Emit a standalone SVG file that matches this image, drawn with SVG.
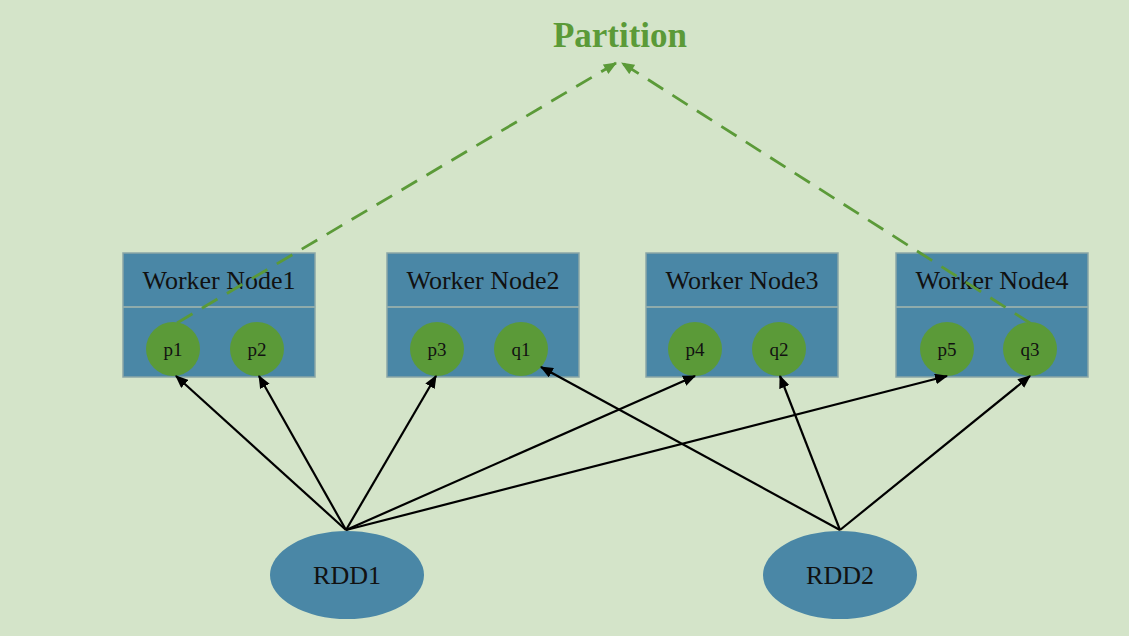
<svg xmlns="http://www.w3.org/2000/svg" width="1129" height="636" viewBox="0 0 1129 636">
<defs>
<style>
.box{fill:#4a87a6;stroke:#8aa6a6;stroke-width:1.5}
.div{stroke:#8fabab;stroke-width:2}
.part{fill:#5b9a38}
.ell{fill:#4a87a6}
.t{font-family:"Liberation Serif",serif;fill:#111;text-anchor:middle}
.arrow{stroke:#000;stroke-width:2.2;fill:none;marker-end:url(#ah)}
.dash{stroke:#5b9a38;stroke-width:2.8;fill:none;stroke-dasharray:18 11;marker-end:url(#gh)}
</style>
<marker id="ah" viewBox="0 0 12 10" refX="11" refY="5" markerWidth="13" markerHeight="11" markerUnits="userSpaceOnUse" orient="auto"><path d="M0,0 L12,5 L0,10 z" fill="#000"/></marker>
<marker id="gh" viewBox="0 0 12 10" refX="11" refY="5" markerWidth="14" markerHeight="11" markerUnits="userSpaceOnUse" orient="auto"><path d="M0,0 L12,5 L0,10 z" fill="#5b9a38"/></marker>
</defs>
<rect width="1129" height="636" fill="#d4e4c9"/>
<g id="partition-label"><text x="620" y="47" font-family="Liberation Serif,serif" font-weight="bold" font-size="35" fill="#5b9a38" text-anchor="middle">Partition</text></g>
<g id="node1">
<rect class="box" x="123" y="253" width="192" height="124"/>
<line class="div" x1="123" y1="307" x2="315" y2="307"/>
<text class="t" x="219" y="289" font-size="26">Worker Node1</text>
</g>
<g id="node2">
<rect class="box" x="387" y="253" width="192" height="124"/>
<line class="div" x1="387" y1="307" x2="579" y2="307"/>
<text class="t" x="483" y="289" font-size="26">Worker Node2</text>
</g>
<g id="node3">
<rect class="box" x="646" y="253" width="192" height="124"/>
<line class="div" x1="646" y1="307" x2="838" y2="307"/>
<text class="t" x="742" y="289" font-size="26">Worker Node3</text>
</g>
<g id="node4">
<rect class="box" x="896" y="253" width="192" height="124"/>
<line class="div" x1="896" y1="307" x2="1088" y2="307"/>
<text class="t" x="992" y="289" font-size="26">Worker Node4</text>
</g>
<g id="p1"><circle class="part" cx="173" cy="349" r="27"/><text class="t" x="173" y="356" font-size="19">p1</text></g>
<g id="p2"><circle class="part" cx="257" cy="349" r="27"/><text class="t" x="257" y="356" font-size="19">p2</text></g>
<g id="p3"><circle class="part" cx="437" cy="349" r="27"/><text class="t" x="437" y="356" font-size="19">p3</text></g>
<g id="q1"><circle class="part" cx="521" cy="349" r="27"/><text class="t" x="521" y="356" font-size="19">q1</text></g>
<g id="p4"><circle class="part" cx="695" cy="349" r="27"/><text class="t" x="695" y="356" font-size="19">p4</text></g>
<g id="q2"><circle class="part" cx="779" cy="349" r="27"/><text class="t" x="779" y="356" font-size="19">q2</text></g>
<g id="p5"><circle class="part" cx="947" cy="349" r="27"/><text class="t" x="947" y="356" font-size="19">p5</text></g>
<g id="q3"><circle class="part" cx="1030" cy="349" r="27"/><text class="t" x="1030" y="356" font-size="19">q3</text></g>
<g id="rdd1"><ellipse class="ell" cx="347" cy="575" rx="77" ry="44"/><text class="t" x="347" y="584" font-size="26">RDD1</text></g>
<g id="rdd2"><ellipse class="ell" cx="840" cy="575" rx="77" ry="44"/><text class="t" x="840" y="584" font-size="26">RDD2</text></g>
<g id="connectors">
<path class="dash" d="M177,323 L616,63"/>
<path class="dash" d="M1030,323 L622,63"/>
<path class="arrow" d="M346,530 L176,376"/>
<path class="arrow" d="M346,530 L259,376"/>
<path class="arrow" d="M346,530 L436,376"/>
<path class="arrow" d="M346,530 L695,376"/>
<path class="arrow" d="M346,530 L947,376"/>
<path class="arrow" d="M840,530 L541,367"/>
<path class="arrow" d="M840,530 L780,376"/>
<path class="arrow" d="M840,530 L1030,376"/>
</g>
</svg>
